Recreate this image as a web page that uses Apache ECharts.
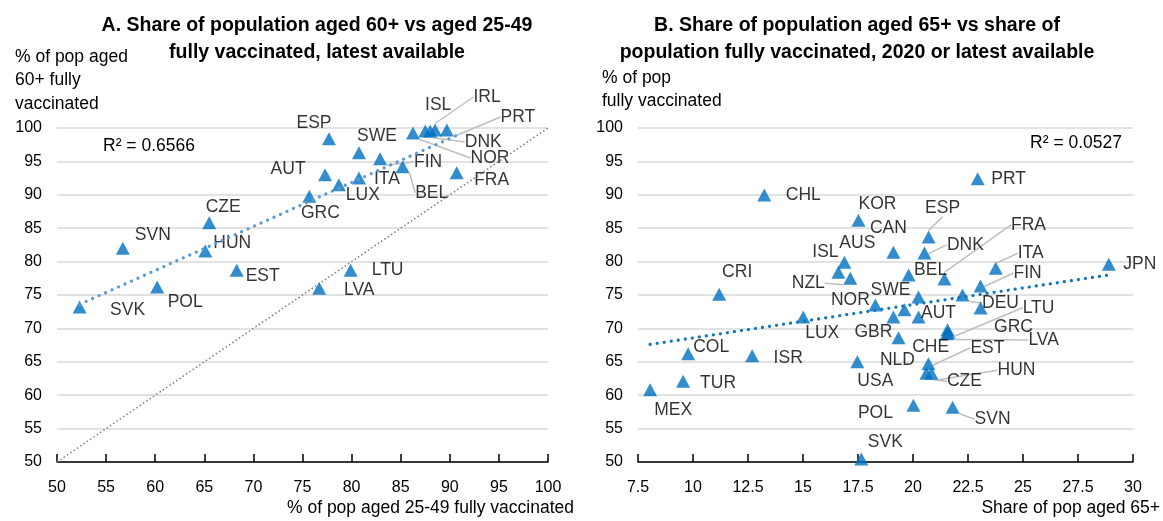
<!DOCTYPE html>
<html>
<head>
<meta charset="utf-8">
<script src="https://cdn.jsdelivr.net/npm/echarts@6/dist/echarts.min.js"></script>
<style>
  html, body { margin: 0; padding: 0; background: #fff; }
  #chart { width: 1163px; height: 521px; }
</style>
</head>
<body>
<div id="chart"></div>
<script>
// Panel A: % aged 25-49 fully vaccinated (x) vs % aged 60+ fully vaccinated (y)
var namesA = ['SVK', 'SVN', 'POL', 'CZE', 'HUN', 'EST', 'ESP', 'AUT', 'GRC', 'LUX', 'SWE', 'ITA',
    'FIN', 'BEL', 'FRA', 'LTU', 'LVA', 'NOR', 'DNK', 'ISL', 'IRL', 'PRT'];
var xA = [52.3, 56.7, 60.2, 65.5, 65.1, 68.3, 77.7, 77.3, 75.7, 78.7, 80.75, 80.75,
    82.9, 85.2, 90.7, 79.9, 76.7, 86.25, 87.5, 88.0, 88.5, 89.7];
var yA = [73.2, 82.0, 76.2, 85.8, 81.6, 78.7, 98.4, 93.0, 89.8, 91.5, 96.3, 92.5,
    95.4, 94.2, 93.3, 78.7, 76.0, 99.25, 99.55, 99.55, 99.7, 99.7];
var trendA = [[52.3, 73.6], [90.7, 98.9]];
var diagA = [[50, 50], [100, 100]];
var r2A = 'R² = 0.6566';

// Panel B: share of pop aged 65+ (x) vs % of pop fully vaccinated (y)
var namesB = ['CHL', 'PRT', 'KOR', 'CAN', 'ESP', 'DNK', 'AUS', 'ISL', 'NZL', 'CRI', 'BEL', 'FRA',
    'ITA', 'FIN', 'JPN', 'NOR', 'SWE', 'IRL', 'GBR', 'AUT', 'NLD', 'DEU', 'GRC', 'LTU', 'LVA',
    'CHE', 'LUX', 'COL', 'ISR', 'MEX', 'TUR', 'USA', 'EST', 'HUN', 'CZE', 'POL', 'SVN', 'SVK'];
var xB = [13.24, 22.94, 17.52, 19.11, 20.71, 20.52, 16.88, 16.61, 17.15, 11.19, 19.8, 21.43,
    23.76, 23.07, 28.9, 18.29, 20.25, 19.61, 19.11, 20.25, 19.34, 22.25, 23.07, 21.57, 21.62,
    21.53, 15.01, 9.78, 12.69, 8.05, 9.55, 17.47, 20.7, 20.84, 20.61, 20.02, 21.8, 17.65];
var yB = [89.97, 92.4, 86.2, 81.4, 83.7, 81.3, 79.9, 78.4, 77.5, 75.1, 78.0, 77.4,
    79.0, 76.35, 79.6, 73.5, 74.7, 72.8, 71.7, 71.7, 68.6, 75.0, 73.05, 69.8, 69.3,
    69.2, 71.7, 66.2, 65.9, 60.8, 62.1, 65.0, 64.7, 63.3, 63.3, 58.5, 58.2, 50.45];
var trendB = [[8.05, 67.6], [28.9, 78.0]];
var r2B = 'R² = 0.0527';

// label offsets from the marker centre [dx, dy, leader line]
var offA = {
    SVK: [48, 3], SVN: [30, -13], POL: [28, 15], CZE: [14, -16], HUN: [27, -8], EST: [26, 6],
    ESP: [-15, -16], AUT: [-37, -6], GRC: [11, 17], LUX: [24, 10], SWE: [18, -17], ITA: [28, 1],
    FIN: [48, 3, 1], BEL: [29, 26, 1], FRA: [35, 7], LTU: [37, 0], LVA: [40, 2],
    NOR: [77, 25, 1], DNK: [58, 11, 1], ISL: [8, -26], IRL: [52, -33, 1], PRT: [71, -13, 1]
};
var offB = {
    CHL: [39, 0], PRT: [31, 0], KOR: [19, -16], CAN: [-5, -24], ESP: [14, -29, 1], DNK: [41, -8, 1],
    AUS: [13, -19], ISL: [-13, -20], NZL: [-42, 5, 1], CRI: [18, -22], BEL: [22, -5], FRA: [84, -54, 1],
    ITA: [35, -15, 1], FIN: [47, -13, 1], JPN: [31, 0], NOR: [-25, -5], SWE: [-28, -7], IRL: [0, 0],
    GBR: [-20, 15], AUT: [20, -4], NLD: [-1, 22], DEU: [38, 8, 1], GRC: [33, 19], LTU: [91, -22, 1],
    LVA: [95, 7, 1], CHE: [-16, 13], LUX: [19, 16], COL: [23, -7], ISR: [36, 2], MEX: [23, 20],
    TUR: [35, 2], USA: [18, 19], EST: [59, -16, 1], HUN: [85, -3, 1], CZE: [38, 8, 1],
    POL: [-38, 8], SVN: [40, 12, 1], SVK: [24, -17]
};

var blue = '#0070c0';
var font = "'Liberation Sans', Arial, sans-serif";

function pts(xs, ys, names) {
    return xs.map(function (x, i) {
        var o = (names === namesA ? offA : offB)[names[i]];
        var item = { value: [x, ys[i]], name: names[i] };
        if (o[2]) item.labelLine = { show: true };
        if (names[i] === 'IRL' && names === namesB) item.label = { show: false };
        return item;
    });
}

function layoutFor(names, offs) {
    return function (p) {
        var o = offs[names[p.dataIndex]];
        return { dx: o[0], dy: o[1] };
    };
}

function xAxisCfg(idx, min, max, step) {
    return {
        type: 'value', gridIndex: idx, min: min, max: max, interval: step,
        axisLine: { lineStyle: { color: '#000', width: 1.5 } },
        axisTick: { inside: true, length: 8, lineStyle: { color: '#000', width: 1.5 } },
        axisLabel: { color: '#000', fontSize: 16, fontFamily: font, margin: 18 },
        splitLine: { show: false }
    };
}

function yAxisCfg(idx, margin) {
    return {
        type: 'value', gridIndex: idx, min: 50, max: 100, interval: 5,
        axisLine: { show: false }, axisTick: { show: false },
        axisLabel: { color: '#000', fontSize: 16, fontFamily: font, margin: margin },
        splitLine: { lineStyle: { color: '#d9d9d9', width: 1.5 } }
    };
}

var labelCfg = {
    show: true, position: 'inside', formatter: '{b}', color: '#000',
    fontSize: 17.5, fontFamily: font
};
var leader = { show: false, lineStyle: { color: '#bfbfbf', width: 1.5 } };

var chart = echarts.init(document.getElementById('chart'));
chart.setOption({
    animation: false,
    title: [{
        text: 'A. Share of population aged 60+ vs aged 25-49\nfully vaccinated, latest available',
        left: 312, top: 7, textAlign: 'center',
        textStyle: { fontSize: 19.5, fontWeight: 'bold', fontFamily: font, lineHeight: 27, color: '#000' }
    }, {
        text: 'B. Share of population aged 65+ vs share of\npopulation fully vaccinated, 2020 or latest available',
        left: 852, top: 7, textAlign: 'center',
        textStyle: { fontSize: 19.5, fontWeight: 'bold', fontFamily: font, lineHeight: 27, color: '#000' }
    }],
    graphic: [
        { type: 'text', left: 15, top: 45, style: { text: '% of pop aged\n60+ fully\nvaccinated', font: '17.5px ' + font, lineHeight: 23.5, fill: '#000' } },
        { type: 'text', left: 602, top: 66, style: { text: '% of pop\nfully vaccinated', font: '17.5px ' + font, lineHeight: 23.5, fill: '#000' } },
        { type: 'text', right: 589, top: 499, style: { text: '% of pop aged 25-49 fully vaccinated', font: '17.5px ' + font, fill: '#000' } },
        { type: 'text', right: 3, top: 499, style: { text: 'Share of pop aged 65+', font: '17.5px ' + font, fill: '#000' } },
        { type: 'text', left: 103, top: 137, style: { text: r2A, font: '17.5px ' + font, fill: '#000' } },
        { type: 'text', right: 41, top: 134, style: { text: r2B, font: '17.5px ' + font, fill: '#000' } }
    ],
    grid: [
        { left: 57, top: 128, width: 491, height: 334 },
        { left: 638, top: 128, width: 495, height: 334 }
    ],
    xAxis: [xAxisCfg(0, 50, 100, 5), xAxisCfg(1, 7.5, 30, 2.5)],
    yAxis: [yAxisCfg(0, 15), yAxisCfg(1, 15)],
    series: [{
        type: 'line', xAxisIndex: 0, yAxisIndex: 0, data: diagA, symbol: 'none', silent: true,
        lineStyle: { color: '#808080', width: 1.5, type: [1.5, 2.5] }
    }, {
        type: 'line', xAxisIndex: 0, yAxisIndex: 0, data: trendA, symbol: 'none', silent: true,
        lineStyle: { color: '#5b9bd5', width: 3.2, type: [0.1, 7], cap: 'round' }
    }, {
        type: 'scatter', xAxisIndex: 0, yAxisIndex: 0, data: pts(xA, yA, namesA),
        symbol: 'triangle', symbolSize: [14, 13], itemStyle: { color: blue },
        label: labelCfg, labelLine: leader, labelLayout: layoutFor(namesA, offA)
    }, {
        type: 'line', xAxisIndex: 1, yAxisIndex: 1, data: trendB, symbol: 'none', silent: true,
        lineStyle: { color: '#0f76c2', width: 3.2, type: [0.1, 7], cap: 'round' }
    }, {
        type: 'scatter', xAxisIndex: 1, yAxisIndex: 1, data: pts(xB, yB, namesB),
        symbol: 'triangle', symbolSize: [14, 13], itemStyle: { color: blue },
        label: labelCfg, labelLine: leader, labelLayout: layoutFor(namesB, offB)
    }]
});
</script>
</body>
</html>
